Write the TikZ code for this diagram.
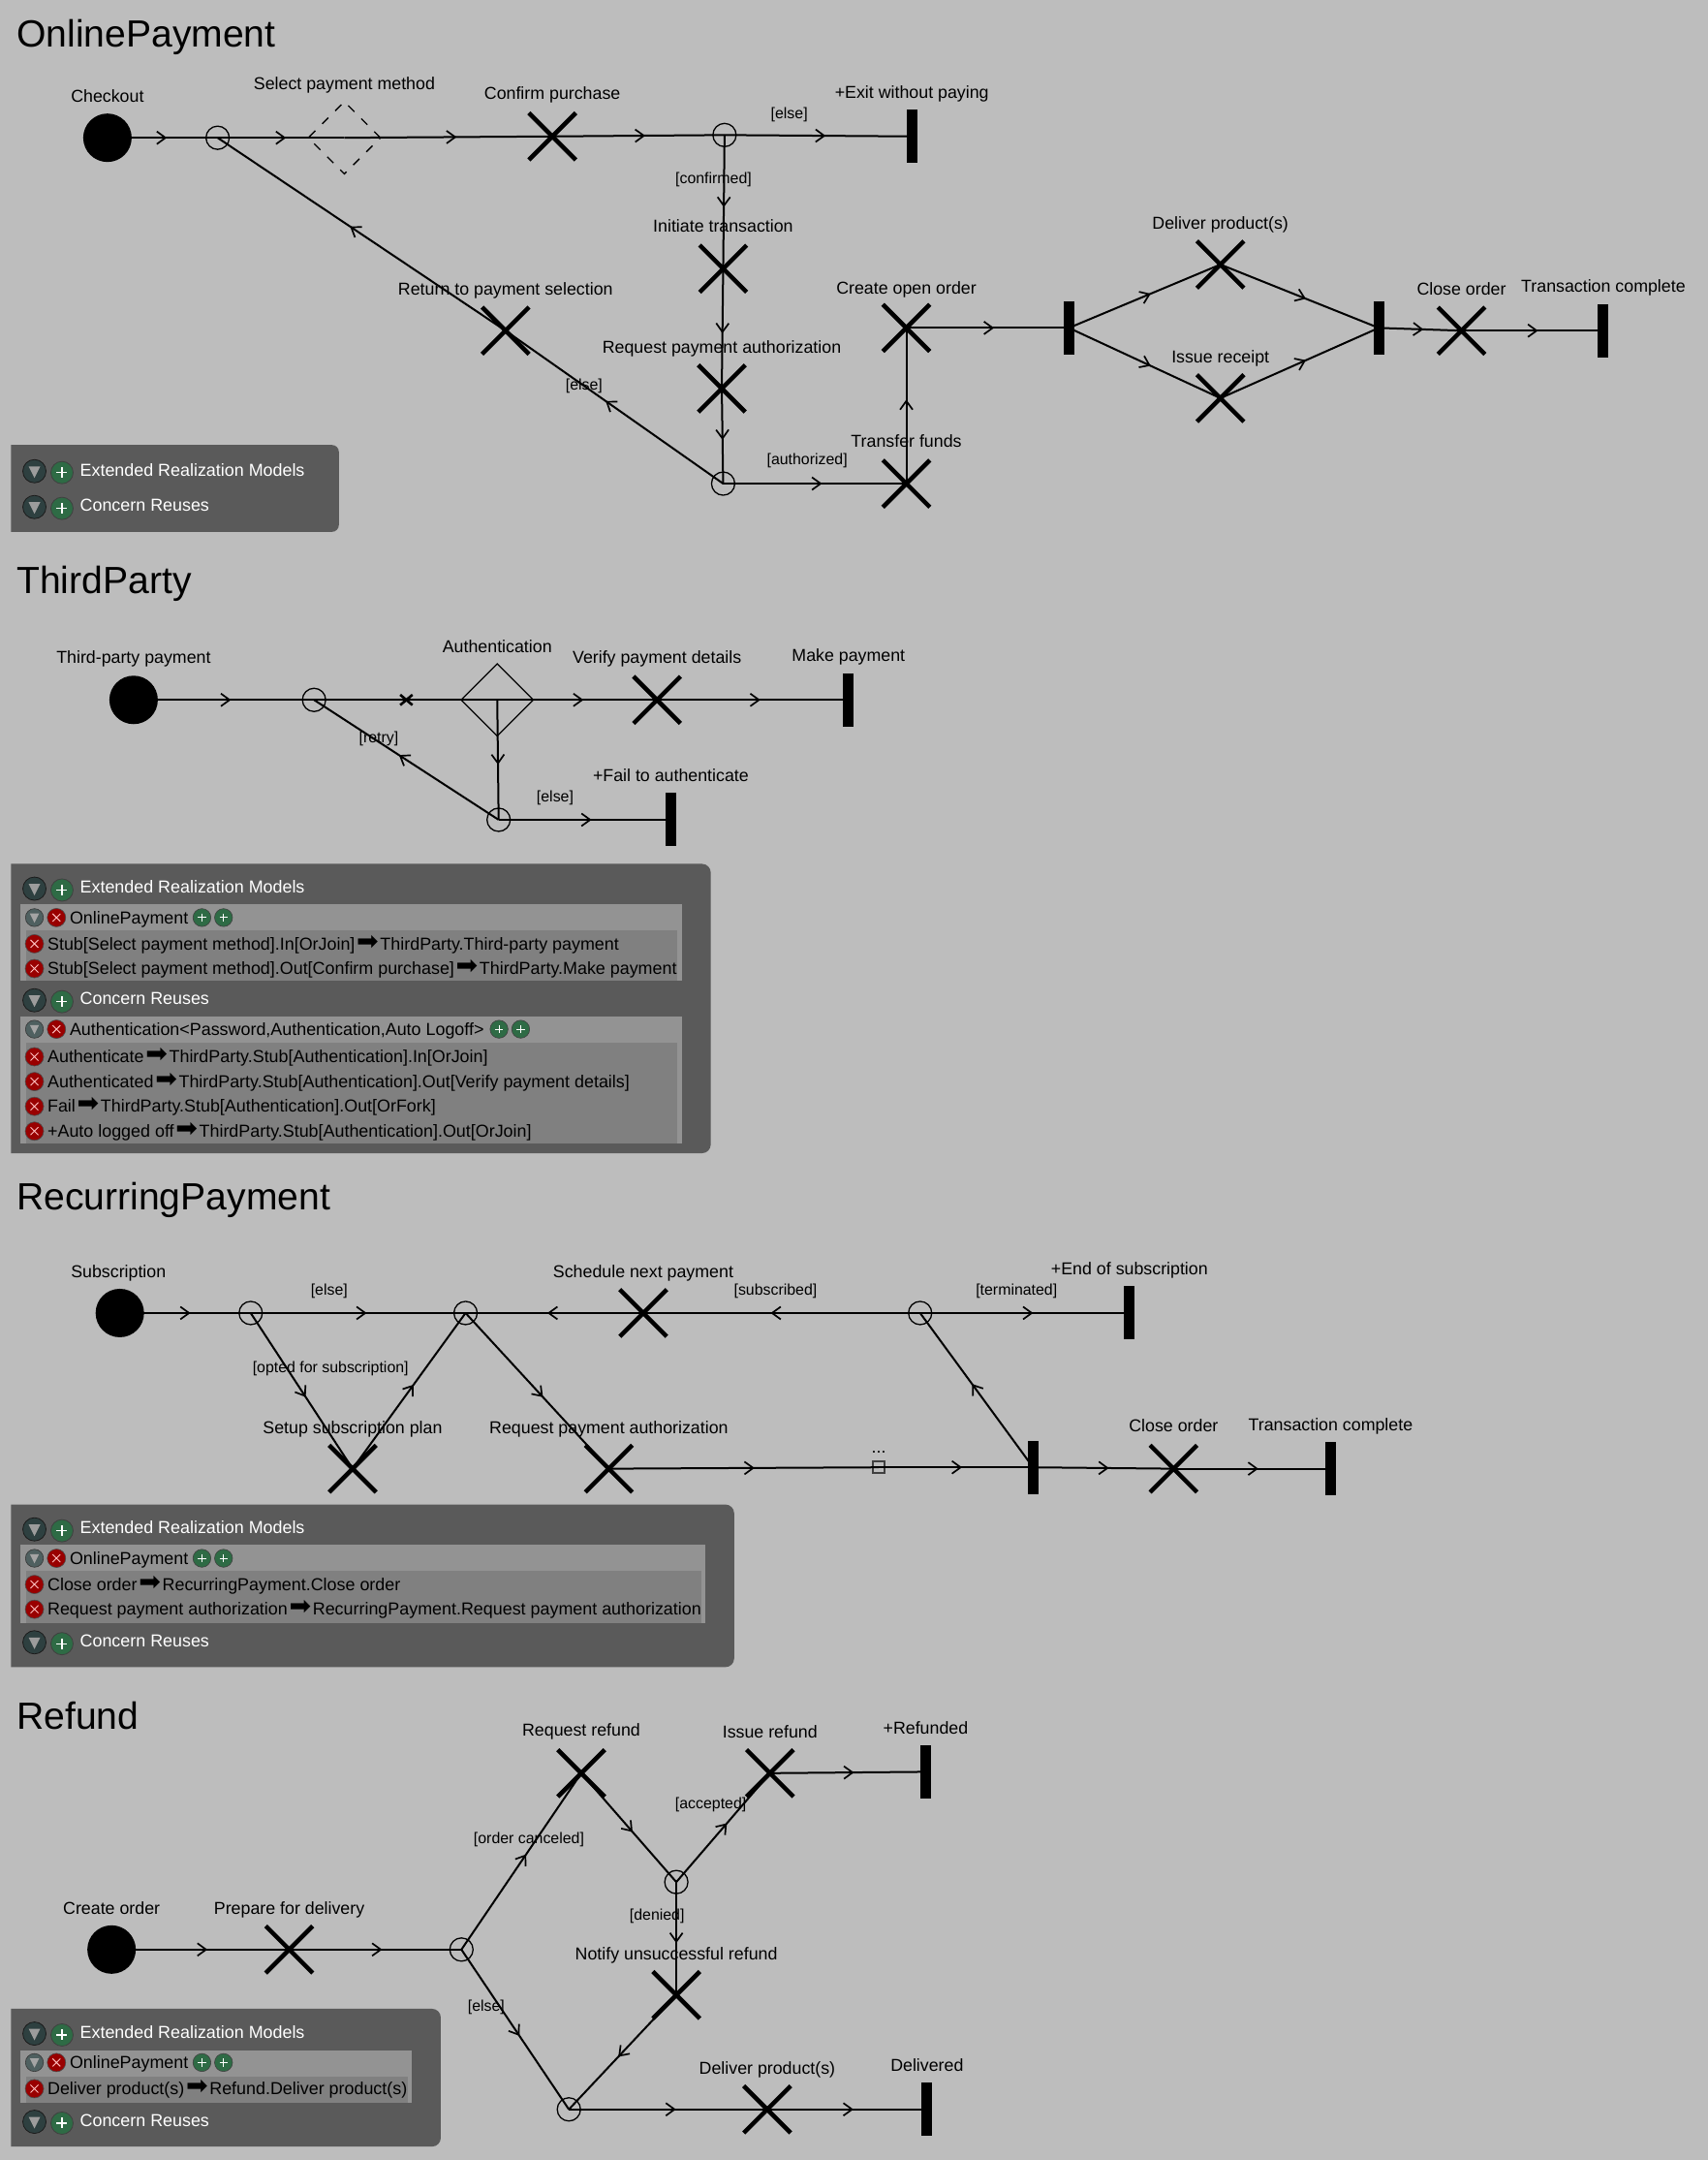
\documentclass[tikz,border=0pt]{standalone}
\usepackage{fontspec}
\setmainfont{Liberation Sans}
\newfontfamily\dvfont{DejaVu Sans}
\usetikzlibrary{arrows.meta,decorations.markings,shapes.geometric,shapes.misc}
\definecolor{bgc}{HTML}{BDBDBD}
\definecolor{panelc}{HTML}{5A5A5A}
\definecolor{subA}{HTML}{939393}
\definecolor{subB}{HTML}{808080}
\definecolor{plusc}{HTML}{2E6B45}
\definecolor{trib}{HTML}{2E4040}
\definecolor{tris}{HTML}{4F6060}
\newcommand\lab[4]{\node[lbl] (#1) at (#2,#3) {#4};}
\newcommand\grd[4]{\node[grdlbl] (#1) at (#2,#3) {#4};}
\newcommand\ttl[3]{\node[titlelbl] (#1) at (12,#2) {#3};}
\newcommand\conn[2]{\draw[flow] (#1.center) -- (#2.center);}
\newcommand\harr{\makebox[26pt]{\dvfont\fontsize{27}{27}\selectfont ➡}}
\newcommand\hdrrow[3]{\node[tribig] (#1t) at (25,#2) {};\node[plusb] (#1p) at (45,#2+1) {};\node[ptxt,text=white] (#1l) at (58,#2-1) {#3};}
\newcommand\subrow[3]{\node[trismall] (#1t) at (25,#2) {};\node[xics] (#1x) at (41,#2) {};\node[ptxt] (#1l) at (50.5,#2) {#3};}
\newcommand\maprow[3]{\node[xics] (#1x) at (25,#2) {};\node[ptxt] (#1l) at (34.4,#2) {#3};}
\tikzset{
  lbl/.style={inner sep=0,yshift=-1.7pt,font=\fontsize{17.8}{20}\selectfont,text height=13pt,text depth=4pt},
  grdlbl/.style={inner sep=0,yshift=-1.7pt,font=\fontsize{15.9}{18}\selectfont,text height=12pt,text depth=4pt},
  titlelbl/.style={inner sep=0,yshift=-4pt,anchor=west,font=\fontsize{39.1}{44}\selectfont,text height=28pt,text depth=8pt},
  ptxt/.style={inner sep=0,yshift=-1.7pt,anchor=west,font=\fontsize{17.9}{20}\selectfont,text height=13pt,text depth=4pt},
  flow/.style={line width=2pt,postaction={decorate},decoration={markings,mark=at position .54 with {\arrow{Straight Barb[length=9pt,width=13pt,line width=1.7pt]}}}},
  plain/.style={line width=2pt},
  startnode/.style={circle,fill=black,inner sep=0,minimum size=50pt},
  resp/.style={cross out,draw,inner sep=0,minimum size=44pt,line width=4.5pt},
  orpt/.style={circle,draw,inner sep=0,minimum size=24pt,line width=1.3pt},
  barn/.style={rectangle,fill=black,inner sep=0,minimum width=11pt,minimum height=55pt},
  stubd/.style={diamond,draw,inner sep=0,minimum width=75pt,minimum height=75pt,line width=1.3pt,dash pattern=on 9pt off 10pt},
  stubs/.style={diamond,draw,inner sep=0,minimum width=75pt,minimum height=75pt,line width=1.3pt},
  tinyx/.style={cross out,draw,inner sep=0,minimum width=10pt,minimum height=8pt,line width=2.6pt},
  tinybox/.style={rectangle,draw=black!75,inner sep=0,minimum size=12pt,line width=1.8pt},
  panel/.style={fill=panelc},
  tribig/.style={circle,inner sep=0,minimum size=24pt,fill=trib,draw=black!70!panelc,line width=.8pt,path picture={\fill[white!40!panelc] ([shift={(6pt,-7pt)}]path picture bounding box.north west) -- ([shift={(-6pt,-7pt)}]path picture bounding box.north east) -- ([yshift=5pt]path picture bounding box.south) -- cycle;}},
  trismall/.style={circle,inner sep=0,minimum size=18.5pt,fill=tris,draw=black!40!panelc,line width=.6pt,path picture={\fill[white!45!panelc] ([shift={(4.5pt,-5pt)}]path picture bounding box.north west) -- ([shift={(-4.5pt,-5pt)}]path picture bounding box.north east) -- ([yshift=4pt]path picture bounding box.south) -- cycle;}},
  plusb/.style={circle,inner sep=0,minimum size=23pt,fill=plusc,draw=black!75,line width=.8pt,path picture={\draw[white,line width=1.1pt] ([xshift=6pt]path picture bounding box.west) -- ([xshift=-6pt]path picture bounding box.east) ([yshift=-6pt]path picture bounding box.north) -- ([yshift=6pt]path picture bounding box.south);}},
  pluss/.style={circle,inner sep=0,minimum size=18.5pt,fill=plusc,draw=black!75,line width=.6pt,path picture={\draw[white,line width=1pt] ([xshift=5pt]path picture bounding box.west) -- ([xshift=-5pt]path picture bounding box.east) ([yshift=-5pt]path picture bounding box.north) -- ([yshift=5pt]path picture bounding box.south);}},
  xics/.style={circle,inner sep=0,minimum size=19pt,fill=red!60!black,draw=black!70,line width=.6pt,path picture={\draw[white!75!red,line width=.9pt] ([shift={(5.5pt,-5.5pt)}]path picture bounding box.north west) -- ([shift={(-5.5pt,5.5pt)}]path picture bounding box.south east) ([shift={(-5.5pt,-5.5pt)}]path picture bounding box.north east) -- ([shift={(5.5pt,5.5pt)}]path picture bounding box.south west);}},
}
\begin{document}
\begin{tikzpicture}[x=1.4218pt,y=-1.4218pt]
\useasboundingbox (0,0) rectangle (1240,1567.76);
\fill[bgc] (0,0) rectangle (1240,1567.76);

% ---------- panels
\fill[panel] (8,323) [rounded corners=7pt] -- (246,323) -- (246,386) [sharp corners] -- (8,386) -- cycle;
\fill[panel] (8,627) [rounded corners=9pt] -- (516,627) -- (516,837) [sharp corners] -- (8,837) -- cycle;
\fill[subA] (15,656) rectangle (495,711.5);
\fill[subB] (18.8,675) rectangle (491.6,711.5);
\fill[subA] (15,738) rectangle (495,830);
\fill[subB] (18.8,757) rectangle (491.6,830);
\fill[panel] (8,1092) [rounded corners=9pt] -- (533,1092) -- (533,1210) [sharp corners] -- (8,1210) -- cycle;
\fill[subA] (15,1121) rectangle (512,1178);
\fill[subB] (18.8,1140) rectangle (509,1178);
\fill[panel] (8,1458) [rounded corners=9pt] -- (320,1458) -- (320,1558) [sharp corners] -- (8,1558) -- cycle;
\fill[subA] (15,1488) rectangle (299,1526);
\fill[subB] (18.8,1507) rectangle (296,1526);

% ---------- OnlinePayment nodes
\node[startnode] (aStart) at (78,100) {};
\node[orpt] (aJ) at (158,100) {};
\node[stubd] (aStub) at (250,100) {};
\node[resp] (aConfirm) at (401,99) {};
\node[orpt] (aF) at (526,98) {};
\node[barn] (aExit) at (662,99) {};
\node[resp] (aInit) at (525,195) {};
\node[resp] (aReq) at (524,282) {};
\node[orpt] (aG) at (525,351) {};
\node[resp] (aTransfer) at (658,351) {};
\node[resp] (aCreate) at (658,238) {};
\node[barn] (aB1) at (776,238) {};
\node[resp] (aDeliver) at (886,192) {};
\node[resp] (aIssue) at (886,289) {};
\node[barn] (aB2) at (1001,238) {};
\node[resp] (aClose) at (1061,240) {};
\node[barn] (aEnd) at (1164,240) {};
\node[resp] (aReturn) at (367,240) {};
\conn{aStart}{aJ}\conn{aJ}{aStub}\conn{aStub}{aConfirm}\conn{aConfirm}{aF}\conn{aF}{aExit}
\conn{aF}{aInit}\conn{aInit}{aReq}\conn{aReq}{aG}\conn{aG}{aTransfer}\conn{aTransfer}{aCreate}
\conn{aCreate}{aB1}\conn{aB1}{aDeliver}\conn{aB1}{aIssue}\conn{aDeliver}{aB2}\conn{aIssue}{aB2}
\conn{aB2}{aClose}\conn{aClose}{aEnd}\conn{aG}{aReturn}\conn{aReturn}{aJ}
\ttl{aT}{24}{OnlinePayment}
\lab{aL1}{78}{70}{Checkout}
\lab{aL2}{250}{61}{Select payment method}
\lab{aL3}{401}{68}{Confirm purchase}
\lab{aL4}{662}{67}{+Exit without paying}
\lab{aL5}{525}{164}{Initiate transaction}
\lab{aL6}{524}{252}{Request payment authorization}
\lab{aL7}{658}{320}{Transfer funds}
\lab{aL8}{658}{209}{Create open order}
\lab{aL9}{886}{162}{Deliver product(s)}
\lab{aL10}{886}{259}{Issue receipt}
\lab{aL11}{1061}{210}{Close order}
\lab{aL12}{1164}{208}{Transaction complete}
\lab{aL13}{367}{210}{Return to payment selection}
\grd{aG1}{573}{82}{[else]}
\grd{aG2}{518}{129}{[confirmed]}
\grd{aG3}{586}{333}{[authorized]}
\grd{aG4}{424}{279}{[else]}
\hdrrow{aP1}{342}{Extended Realization Models}
\hdrrow{aP2}{368}{Concern Reuses}

% ---------- ThirdParty nodes
\node[startnode] (bStart) at (97,508) {};
\node[orpt] (bJ) at (228,508) {};
\node[tinyx] (bX) at (295,508) {};
\node[stubs] (bAuth) at (361,508) {};
\node[resp] (bVerify) at (477,508) {};
\node[barn] (bEnd) at (616,508) {};
\node[orpt] (bF) at (362,595) {};
\node[barn] (bFail) at (487,595) {};
\conn{bStart}{bJ}
\draw[plain] (bJ.center) -- (bX.center);
\draw[plain] (bX.center) -- (bAuth.center);
\conn{bAuth}{bVerify}\conn{bVerify}{bEnd}\conn{bAuth}{bF}\conn{bF}{bJ}\conn{bF}{bFail}
\ttl{bT}{421}{ThirdParty}
\lab{bL1}{97}{477}{Third-party payment}
\lab{bL2}{361}{469}{Authentication}
\lab{bL3}{477}{477}{Verify payment details}
\lab{bL4}{616}{476}{Make payment}
\lab{bL5}{487}{563}{+Fail to authenticate}
\grd{bG1}{275}{535}{[retry]}
\grd{bG2}{403}{578}{[else]}
\hdrrow{bP1}{645}{Extended Realization Models}
\subrow{bS1}{666}{OnlinePayment}
\node[pluss] (bS1a) at (146.6,666) {};
\node[pluss] (bS1b) at (162.3,666) {};
\maprow{bM1}{685}{Stub[Select payment method].In[OrJoin]\harr ThirdParty.Third-party payment}
\maprow{bM2}{703}{Stub[Select payment method].Out[Confirm purchase]\harr ThirdParty.Make payment}
\hdrrow{bP2}{726}{Concern Reuses}
\subrow{bS2}{747}{Authentication<Password,Authentication,Auto Logoff>}
\node[pluss] (bS2a) at (362.3,747) {};
\node[pluss] (bS2b) at (378,747) {};
\maprow{bM3}{767}{Authenticate\harr ThirdParty.Stub[Authentication].In[OrJoin]}
\maprow{bM4}{785}{Authenticated\harr ThirdParty.Stub[Authentication].Out[Verify payment details]}
\maprow{bM5}{803}{Fail\harr ThirdParty.Stub[Authentication].Out[OrFork]}
\maprow{bM6}{821}{+Auto logged off\harr ThirdParty.Stub[Authentication].Out[OrJoin]}

% ---------- RecurringPayment nodes
\node[startnode] (cStart) at (87,953) {};
\node[orpt] (cJ1) at (182,953) {};
\node[orpt] (cJ2) at (338,953) {};
\node[resp] (cSched) at (467,953) {};
\node[orpt] (cF) at (668,953) {};
\node[barn] (cSubEnd) at (820,953) {};
\node[resp] (cSetup) at (256,1066) {};
\node[resp] (cReq) at (442,1066) {};
\node[tinybox] (cBox) at (638,1065) {};
\node[barn] (cBar) at (750,1065) {};
\node[resp] (cClose) at (852,1066) {};
\node[barn] (cEnd) at (966,1066) {};
\conn{cStart}{cJ1}\conn{cJ1}{cJ2}\conn{cSched}{cJ2}\conn{cF}{cSched}\conn{cF}{cSubEnd}
\conn{cJ1}{cSetup}\conn{cSetup}{cJ2}\conn{cJ2}{cReq}\conn{cReq}{cBox}\conn{cBox}{cBar}
\conn{cBar}{cF}\conn{cBar}{cClose}\conn{cClose}{cEnd}
\ttl{cT}{868}{RecurringPayment}
\lab{cL1}{86}{923}{Subscription}
\lab{cL2}{467}{923}{Schedule next payment}
\lab{cL3}{820}{921}{+End of subscription}
\lab{cL4}{256}{1036}{Setup subscription plan}
\lab{cL5}{442}{1036}{Request payment authorization}
\lab{cL6}{638}{1050}{...}
\lab{cL7}{852}{1035}{Close order}
\lab{cL8}{966}{1034}{Transaction complete}
\grd{cG1}{239}{936}{[else]}
\grd{cG2}{563}{936}{[subscribed]}
\grd{cG3}{738}{936}{[terminated]}
\grd{cG4}{240}{992}{[opted for subscription]}
\hdrrow{cP1}{1110}{Extended Realization Models}
\subrow{cS1}{1131}{OnlinePayment}
\node[pluss] (cS1a) at (146.6,1131) {};
\node[pluss] (cS1b) at (162.3,1131) {};
\maprow{cM1}{1150}{Close order\harr RecurringPayment.Close order}
\maprow{cM2}{1168}{Request payment authorization\harr RecurringPayment.Request payment authorization}
\hdrrow{cP2}{1192}{Concern Reuses}

% ---------- Refund nodes
\node[startnode] (dStart) at (81,1415) {};
\node[resp] (dPrep) at (210,1415) {};
\node[orpt] (dF) at (335,1415) {};
\node[resp] (dReq) at (422,1287) {};
\node[orpt] (dF2) at (491,1366) {};
\node[resp] (dIssue) at (559,1287) {};
\node[barn] (dRefunded) at (672,1286) {};
\node[resp] (dNotify) at (491,1448) {};
\node[orpt] (dJ) at (413,1531) {};
\node[resp] (dDeliver) at (557,1531) {};
\node[barn] (dDelivered) at (673,1531) {};
\conn{dStart}{dPrep}\conn{dPrep}{dF}\conn{dF}{dReq}\conn{dF}{dJ}\conn{dReq}{dF2}\conn{dF2}{dIssue}
\conn{dIssue}{dRefunded}\conn{dF2}{dNotify}\conn{dNotify}{dJ}\conn{dJ}{dDeliver}\conn{dDeliver}{dDelivered}
\ttl{dT}{1245}{Refund}
\lab{dL1}{81}{1385}{Create order}
\lab{dL2}{210}{1385}{Prepare for delivery}
\lab{dL3}{422}{1256}{Request refund}
\lab{dL4}{559}{1257}{Issue refund}
\lab{dL5}{672}{1254}{+Refunded}
\lab{dL6}{491}{1418}{Notify unsuccessful refund}
\lab{dL7}{557}{1501}{Deliver product(s)}
\lab{dL8}{673}{1499}{Delivered}
\grd{dG1}{384}{1334}{[order canceled]}
\grd{dG2}{353}{1456}{[else]}
\grd{dG3}{516}{1309}{[accepted]}
\grd{dG4}{477}{1390}{[denied]}
\hdrrow{dP1}{1476}{Extended Realization Models}
\subrow{dS1}{1497}{OnlinePayment}
\node[pluss] (dS1a) at (146.6,1497) {};
\node[pluss] (dS1b) at (162.3,1497) {};
\maprow{dM1}{1516}{Deliver product(s)\harr Refund.Deliver product(s)}
\hdrrow{dP2}{1540}{Concern Reuses}
\end{tikzpicture}
\end{document}
